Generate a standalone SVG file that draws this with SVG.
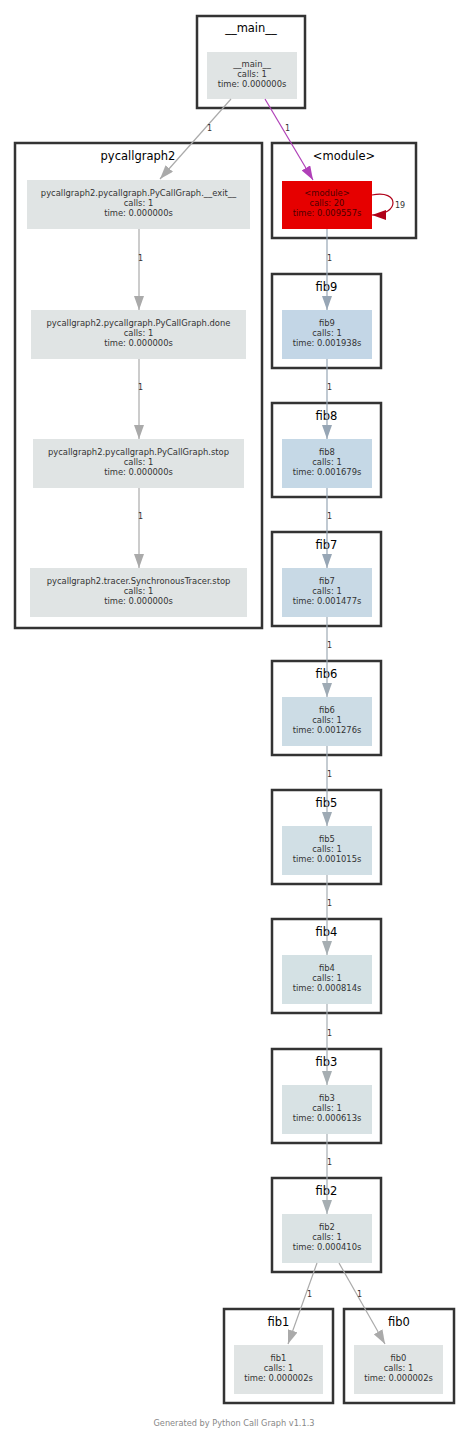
<svg xmlns="http://www.w3.org/2000/svg" width="469" height="1441" viewBox="0 0 469 1441">
<style>
  .cl { fill: #ffffff; stroke: #333333; stroke-width: 2.5; }
  .ct { font-family: "DejaVu Sans", sans-serif; font-size: 11.5px; fill: #000000; text-anchor: middle; }
  .nt { font-family: "DejaVu Sans", sans-serif; font-size: 8.4px; fill: #333333; text-anchor: middle; }
  .ntr { font-family: "DejaVu Sans", sans-serif; font-size: 8.4px; fill: #4d0000; text-anchor: middle; }
  .el { font-family: "DejaVu Sans", sans-serif; font-size: 8px; fill: #333333; }
  .e { fill: none; stroke-width: 1.2; }
  .ft { font-family: "DejaVu Sans", sans-serif; font-size: 8.2px; fill: #888888; text-anchor: middle; }
</style>
<defs>
  <marker id="ag" viewBox="0 0 14 10" refX="14" refY="5" markerWidth="14" markerHeight="10" markerUnits="userSpaceOnUse" orient="auto"><path d="M0,0 L14,5 L0,10 z" fill="#aaaaaa"/></marker>
  <marker id="ap" viewBox="0 0 14 10" refX="14" refY="5" markerWidth="14" markerHeight="10" markerUnits="userSpaceOnUse" orient="auto"><path d="M0,0 L14,5 L0,10 z" fill="#b040b8"/></marker>
  <marker id="ar" viewBox="0 0 14 10" refX="14" refY="5" markerWidth="14" markerHeight="10" markerUnits="userSpaceOnUse" orient="auto"><path d="M0,0 L14,5 L0,10 z" fill="#b00018"/></marker>
  <marker id="ab1" viewBox="0 0 14 10" refX="14" refY="5" markerWidth="14" markerHeight="10" markerUnits="userSpaceOnUse" orient="auto"><path d="M0,0 L14,5 L0,10 z" fill="#97a6b5"/></marker>
  <marker id="ab2" viewBox="0 0 14 10" refX="14" refY="5" markerWidth="14" markerHeight="10" markerUnits="userSpaceOnUse" orient="auto"><path d="M0,0 L14,5 L0,10 z" fill="#9eaab4"/></marker>
  <marker id="ab3" viewBox="0 0 14 10" refX="14" refY="5" markerWidth="14" markerHeight="10" markerUnits="userSpaceOnUse" orient="auto"><path d="M0,0 L14,5 L0,10 z" fill="#a6aeb2"/></marker>
</defs>

<g id="cluster-main">
  <rect class="cl" x="197" y="16" width="108" height="92"/>
  <text class="ct" x="251" y="32">__main__</text>
</g>
<g id="cluster-pycallgraph2">
  <rect class="cl" x="15" y="143" width="247" height="485"/>
  <text class="ct" x="138" y="160">pycallgraph2</text>
</g>
<g id="cluster-module">
  <rect class="cl" x="272" y="143" width="144" height="95"/>
  <text class="ct" x="344" y="160">&lt;module&gt;</text>
</g>
<g id="cluster-fib9"><rect class="cl" x="272" y="274" width="109" height="94"/><text class="ct" x="326.5" y="291">fib9</text></g>
<g id="cluster-fib8"><rect class="cl" x="272" y="403" width="109" height="94"/><text class="ct" x="326.5" y="420">fib8</text></g>
<g id="cluster-fib7"><rect class="cl" x="272" y="532" width="109" height="94"/><text class="ct" x="326.5" y="549">fib7</text></g>
<g id="cluster-fib6"><rect class="cl" x="272" y="661" width="109" height="94"/><text class="ct" x="326.5" y="678">fib6</text></g>
<g id="cluster-fib5"><rect class="cl" x="272" y="790" width="109" height="94"/><text class="ct" x="326.5" y="807">fib5</text></g>
<g id="cluster-fib4"><rect class="cl" x="272" y="919" width="109" height="94"/><text class="ct" x="326.5" y="936">fib4</text></g>
<g id="cluster-fib3"><rect class="cl" x="272" y="1049" width="109" height="94"/><text class="ct" x="326.5" y="1066">fib3</text></g>
<g id="cluster-fib2"><rect class="cl" x="272" y="1178" width="109" height="94"/><text class="ct" x="326.5" y="1195">fib2</text></g>
<g id="cluster-fib1"><rect class="cl" x="224" y="1309" width="109" height="94"/><text class="ct" x="278.5" y="1326">fib1</text></g>
<g id="cluster-fib0"><rect class="cl" x="344" y="1309" width="110" height="94"/><text class="ct" x="399" y="1326">fib0</text></g>

<g id="node-main">
  <rect x="207" y="52" width="90" height="47" fill="#e0e4e4"/>
  <text class="nt" x="252" y="67">__main__</text>
  <text class="nt" x="252" y="77">calls: 1</text>
  <text class="nt" x="252" y="87">time: 0.000000s</text>
</g>
<g id="node-exit">
  <rect x="27" y="180" width="223" height="49" fill="#e0e4e4"/>
  <text class="nt" x="138.5" y="196">pycallgraph2.pycallgraph.PyCallGraph.__exit__</text>
  <text class="nt" x="138.5" y="206">calls: 1</text>
  <text class="nt" x="138.5" y="216">time: 0.000000s</text>
</g>
<g id="node-done">
  <rect x="31" y="310" width="215" height="49" fill="#e0e4e4"/>
  <text class="nt" x="138.5" y="326">pycallgraph2.pycallgraph.PyCallGraph.done</text>
  <text class="nt" x="138.5" y="336">calls: 1</text>
  <text class="nt" x="138.5" y="346">time: 0.000000s</text>
</g>
<g id="node-stop">
  <rect x="33" y="439" width="211" height="49" fill="#e0e4e4"/>
  <text class="nt" x="138.5" y="455">pycallgraph2.pycallgraph.PyCallGraph.stop</text>
  <text class="nt" x="138.5" y="465">calls: 1</text>
  <text class="nt" x="138.5" y="475">time: 0.000000s</text>
</g>
<g id="node-tracer">
  <rect x="30" y="568" width="217" height="49" fill="#e0e4e4"/>
  <text class="nt" x="138.5" y="584">pycallgraph2.tracer.SynchronousTracer.stop</text>
  <text class="nt" x="138.5" y="594">calls: 1</text>
  <text class="nt" x="138.5" y="604">time: 0.000000s</text>
</g>
<g id="node-module">
  <rect x="282" y="181" width="90" height="48" fill="#e60000"/>
  <text class="ntr" x="327" y="196">&lt;module&gt;</text>
  <text class="ntr" x="327" y="206">calls: 20</text>
  <text class="ntr" x="327" y="216">time: 0.009557s</text>
</g>
<g id="node-fib9">
  <rect x="282" y="310" width="90" height="49" fill="#c3d6e6"/>
  <text class="nt" x="327" y="326">fib9</text><text class="nt" x="327" y="336">calls: 1</text><text class="nt" x="327" y="346">time: 0.001938s</text>
</g>
<g id="node-fib8">
  <rect x="282" y="439" width="90" height="49" fill="#c5d8e6"/>
  <text class="nt" x="327" y="455">fib8</text><text class="nt" x="327" y="465">calls: 1</text><text class="nt" x="327" y="475">time: 0.001679s</text>
</g>
<g id="node-fib7">
  <rect x="282" y="568" width="90" height="49" fill="#c8d9e5"/>
  <text class="nt" x="327" y="584">fib7</text><text class="nt" x="327" y="594">calls: 1</text><text class="nt" x="327" y="604">time: 0.001477s</text>
</g>
<g id="node-fib6">
  <rect x="282" y="697" width="90" height="49" fill="#ccdce5"/>
  <text class="nt" x="327" y="713">fib6</text><text class="nt" x="327" y="723">calls: 1</text><text class="nt" x="327" y="733">time: 0.001276s</text>
</g>
<g id="node-fib5">
  <rect x="282" y="826" width="90" height="49" fill="#d1dfe5"/>
  <text class="nt" x="327" y="842">fib5</text><text class="nt" x="327" y="852">calls: 1</text><text class="nt" x="327" y="862">time: 0.001015s</text>
</g>
<g id="node-fib4">
  <rect x="282" y="955" width="90" height="49" fill="#d4e1e4"/>
  <text class="nt" x="327" y="971">fib4</text><text class="nt" x="327" y="981">calls: 1</text><text class="nt" x="327" y="991">time: 0.000814s</text>
</g>
<g id="node-fib3">
  <rect x="282" y="1085" width="90" height="49" fill="#d8e2e4"/>
  <text class="nt" x="327" y="1101">fib3</text><text class="nt" x="327" y="1111">calls: 1</text><text class="nt" x="327" y="1121">time: 0.000613s</text>
</g>
<g id="node-fib2">
  <rect x="282" y="1214" width="90" height="49" fill="#dbe3e4"/>
  <text class="nt" x="327" y="1230">fib2</text><text class="nt" x="327" y="1240">calls: 1</text><text class="nt" x="327" y="1250">time: 0.000410s</text>
</g>
<g id="node-fib1">
  <rect x="234" y="1345" width="89" height="49" fill="#e0e4e4"/>
  <text class="nt" x="278.5" y="1361">fib1</text><text class="nt" x="278.5" y="1371">calls: 1</text><text class="nt" x="278.5" y="1381">time: 0.000002s</text>
</g>
<g id="node-fib0">
  <rect x="354" y="1345" width="89" height="49" fill="#e0e4e4"/>
  <text class="nt" x="398.5" y="1361">fib0</text><text class="nt" x="398.5" y="1371">calls: 1</text><text class="nt" x="398.5" y="1381">time: 0.000002s</text>
</g>

<g id="connectors">
  <line class="e" x1="231" y1="99" x2="160" y2="179" stroke="#aaaaaa" marker-end="url(#ag)"/>
  <text class="el" x="207" y="131">1</text>
  <line class="e" x1="265" y1="99" x2="313" y2="180" stroke="#b040b8" marker-end="url(#ap)"/>
  <text class="el" x="285" y="131">1</text>
  <path class="e" d="M372,195 C400,189 400,215 372,215" stroke="#b00018" marker-end="url(#ar)"/>
  <text class="el" x="395" y="208">19</text>

  <line class="e" x1="139" y1="229" x2="139" y2="310" stroke="#aaaaaa" marker-end="url(#ag)"/>
  <text class="el" x="138" y="261">1</text>
  <line class="e" x1="139" y1="359" x2="139" y2="439" stroke="#aaaaaa" marker-end="url(#ag)"/>
  <text class="el" x="138" y="390">1</text>
  <line class="e" x1="139" y1="488" x2="139" y2="568" stroke="#aaaaaa" marker-end="url(#ag)"/>
  <text class="el" x="138" y="519">1</text>

  <line class="e" x1="327" y1="229" x2="327" y2="310" stroke="#97a6b5" marker-end="url(#ab1)"/>
  <text class="el" x="327" y="261">1</text>
  <line class="e" x1="327" y1="359" x2="327" y2="439" stroke="#97a6b5" marker-end="url(#ab1)"/>
  <text class="el" x="327" y="390">1</text>
  <line class="e" x1="327" y1="488" x2="327" y2="568" stroke="#97a6b5" marker-end="url(#ab1)"/>
  <text class="el" x="327" y="519">1</text>
  <line class="e" x1="327" y1="617" x2="327" y2="697" stroke="#9eaab4" marker-end="url(#ab2)"/>
  <text class="el" x="327" y="648">1</text>
  <line class="e" x1="327" y1="746" x2="327" y2="826" stroke="#9eaab4" marker-end="url(#ab2)"/>
  <text class="el" x="327" y="777">1</text>
  <line class="e" x1="327" y1="875" x2="327" y2="955" stroke="#a6aeb2" marker-end="url(#ab3)"/>
  <text class="el" x="327" y="906">1</text>
  <line class="e" x1="327" y1="1004" x2="327" y2="1085" stroke="#a6aeb2" marker-end="url(#ab3)"/>
  <text class="el" x="327" y="1036">1</text>
  <line class="e" x1="327" y1="1134" x2="327" y2="1214" stroke="#a6aeb2" marker-end="url(#ab3)"/>
  <text class="el" x="327" y="1165">1</text>

  <line class="e" x1="317" y1="1263" x2="288" y2="1344" stroke="#aaaaaa" marker-end="url(#ag)"/>
  <text class="el" x="307" y="1297">1</text>
  <line class="e" x1="339" y1="1263" x2="385" y2="1344" stroke="#aaaaaa" marker-end="url(#ag)"/>
  <text class="el" x="357" y="1297">1</text>
</g>

<text class="ft" x="234" y="1426">Generated by Python Call Graph v1.1.3</text>
</svg>
